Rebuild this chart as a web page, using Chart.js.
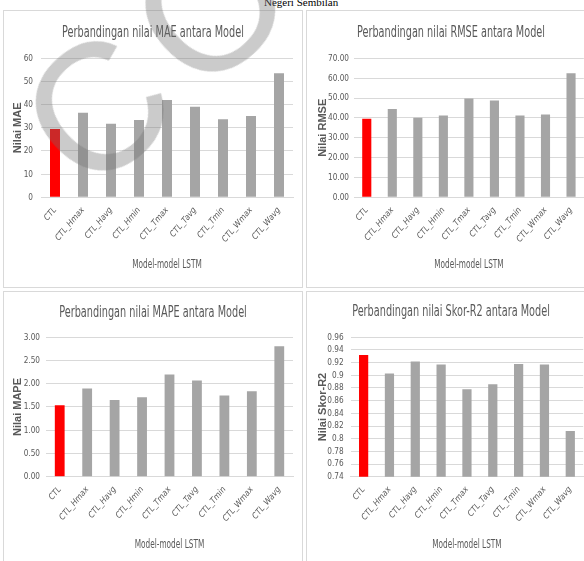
<!DOCTYPE html>
<html>
<head>
<meta charset="utf-8">
<script src="https://cdn.jsdelivr.net/npm/chart.js@4.4.1/dist/chart.umd.min.js"></script>
<style>
  html, body { margin: 0; padding: 0; background: #fff; }
  body { width: 584px; height: 561px; overflow: hidden; position: relative; }
  .panel { position: absolute; border: 1px solid #d9d9d9; box-sizing: border-box; background: #fff; }
  .panel canvas { position: absolute; left: -1px; top: -1px; }
  #p1 { left: 3px; top: 10px; width: 300px; height: 278px; }
  #p2 { left: 306px; top: 10px; width: 290px; height: 278px; }
  #p3 { left: 3px; top: 291px; width: 300px; height: 280px; }
  #p4 { left: 306px; top: 291px; width: 290px; height: 280px; }
  #header { position: absolute; left: 264px; top: -4px; font: 11px 'Liberation Serif', serif; color: #000; white-space: nowrap; }
  #mark { position: absolute; left: 97px; top: 106px; width: 0; height: 0; transform: rotate(-42deg); pointer-events: none; }
  #mark span { position: absolute; left: -67px; top: -88px; font: 180px/180px 'Liberation Sans', Arial, sans-serif; letter-spacing: 18px; color: rgba(110,110,110,0.36); white-space: nowrap; }
</style>
</head>
<body>
<div id="header">Negeri Sembilan</div>
<div class="panel" id="p1"><canvas id="c1" width="300" height="278"></canvas></div>
<div class="panel" id="p2"><canvas id="c2" width="290" height="278"></canvas></div>
<div class="panel" id="p3"><canvas id="c3" width="300" height="270"></canvas></div>
<div class="panel" id="p4"><canvas id="c4" width="290" height="270"></canvas></div>
<div id="mark"><span>COPY</span></div>
<script>
// Model names on the category axis
const models = ['CTL', 'CTL_Hmax', 'CTL_Havg', 'CTL_Hmin', 'CTL_Tmax', 'CTL_Tavg', 'CTL_Tmin', 'CTL_Wmax', 'CTL_Wavg'];

// Error / score values per model
const maeValues  = [29.5, 36.5, 31.8, 33.4, 42.0, 39.1, 33.7, 35.1, 53.5];
const rmseValues = [39.5, 44.5, 40.0, 41.2, 49.8, 48.7, 41.2, 41.7, 62.5];
const mapeValues = [1.54, 1.90, 1.65, 1.71, 2.20, 2.07, 1.75, 1.84, 2.81];
const r2Values   = [0.932, 0.903, 0.922, 0.917, 0.878, 0.886, 0.918, 0.917, 0.812];

// Value-axis ticks and their printed labels
const maeTicks = [0, 10, 20, 30, 40, 50, 60];
const maeTickLabels = ['0', '10', '20', '30', '40', '50', '60'];
const rmseTicks = [0, 10, 20, 30, 40, 50, 60, 70];
const rmseTickLabels = ['0.00', '10.00', '20.00', '30.00', '40.00', '50.00', '60.00', '70.00'];
const mapeTicks = [0, 0.5, 1, 1.5, 2, 2.5, 3];
const mapeTickLabels = ['0.00', '0.50', '1.00', '1.50', '2.00', '2.50', '3.00'];
const r2Ticks = [0.74, 0.76, 0.78, 0.8, 0.82, 0.84, 0.86, 0.88, 0.9, 0.92, 0.94, 0.96];
const r2TickLabels = ['0.74', '0.76', '0.78', '0.8', '0.82', '0.84', '0.86', '0.88', '0.9', '0.92', '0.94', '0.96'];

const NARROW = "'Liberation Sans Narrow', 'DejaVu Sans Condensed', sans-serif";
const TEXT = '#595959';
const GRID = '#d9d9d9';

// Squeezes text horizontally (title, axis title, value labels) to get a narrow face
const narrowText = {
  id: 'narrowText',
  afterUpdate(chart, args, opts) {
    const tb = chart.titleBlock;
    if (tb && !tb._narrow) {
      const draw = tb.draw;
      tb.draw = function (...a) {
        const c = this.ctx, bc = (this.left + this.right) / 2;
        c.save(); c.translate(chart.width / 2, 0); c.scale(opts.title, 1); c.translate(-bc, 0);
        draw.apply(this, a);
        c.restore();
      };
      tb._narrow = true;
    }
    const x = chart.scales.x;
    if (x && !x._narrow) {
      const drawTitle = x.drawTitle;
      x.drawTitle = function (...a) {
        const c = this.ctx, cx = (this.left + this.right) / 2;
        c.save(); c.translate(cx, 0); c.scale(opts.axisTitle, 1); c.translate(-cx, 0);
        drawTitle.apply(this, a);
        c.restore();
      };
      x._narrow = true;
    }
    const y = chart.scales.y;
    if (y && !y._narrow) {
      const drawLabels = y.drawLabels;
      y.drawLabels = function (...a) {
        const c = this.ctx, ax = this.right - this.options.ticks.padding;
        c.save(); c.translate(ax, 0); c.scale(opts.ticks, 1); c.translate(-ax, 0);
        drawLabels.apply(this, a);
        c.restore();
      };
      y._narrow = true;
    }
  }
};

function buildChart(id, cfg) {
  const colors = models.map((m, i) => (i === 0 ? '#ff0000' : '#a5a5a5'));
  return new Chart(document.getElementById(id), {
    type: 'bar',
    plugins: [narrowText],
    data: {
      labels: models,
      datasets: [{
        data: cfg.values,
        backgroundColor: colors,
        borderWidth: 0,
        barPercentage: 0.357,
        categoryPercentage: 1
      }]
    },
    options: {
      responsive: false,
      animation: false,
      events: [],
      layout: { padding: { left: 0, right: cfg.padRight, top: 0, bottom: cfg.padBottom } },
      plugins: {
        legend: { display: false },
        tooltip: { enabled: false },
        narrowText: { title: 0.72, axisTitle: 0.71, ticks: 0.86 },
        title: {
          display: true,
          text: cfg.title,
          color: TEXT,
          font: { family: NARROW, size: 15, weight: 'normal', lineHeight: 1.2 },
          padding: { top: cfg.titleTop, bottom: cfg.titleBottom }
        }
      },
      scales: {
        x: {
          grid: { display: false, drawTicks: false },
          border: { display: true, color: GRID },
          ticks: {
            color: TEXT,
            font: { family: NARROW, size: 8.5, style: 'italic' },
            minRotation: 50,
            maxRotation: 50,
            autoSkip: false,
            padding: 8
          },
          title: {
            display: true,
            text: 'Model-model LSTM',
            color: TEXT,
            font: { family: NARROW, size: 11.5, lineHeight: 1.2 },
            padding: { top: 0, bottom: 4 }
          },
          afterFit: s => { s.height = cfg.xHeight; }
        },
        y: {
          min: cfg.ticks[0],
          max: cfg.ticks[cfg.ticks.length - 1],
          grid: { color: GRID, drawTicks: false },
          border: { display: false },
          afterBuildTicks: s => { s.ticks = cfg.ticks.map(v => ({ value: v })); },
          ticks: {
            color: TEXT,
            font: { family: NARROW, size: 9.5 },
            padding: cfg.tickPad,
            autoSkip: false,
            callback: (v, i) => cfg.tickLabels[i]
          },
          title: {
            display: true,
            text: cfg.yTitle,
            color: TEXT,
            font: { family: "'Liberation Sans', Arial, sans-serif", size: 11, weight: 'bold', lineHeight: 1.2 },
            padding: { top: cfg.yTitleTop, bottom: 0 }
          },
          afterFit: s => { s.width = cfg.yWidth; }
        }
      }
    }
  });
}

buildChart('c1', {
  title: 'Perbandingan nilai MAE antara Model', yTitle: 'Nilai MAE',
  values: maeValues, ticks: maeTicks, tickLabels: maeTickLabels,
  yWidth: 38, yTitleTop: 8.5, tickPad: 8, padRight: 10,
  titleTop: 14, titleBottom: 16.3, xHeight: 78.3, padBottom: 12.4
});
buildChart('c2', {
  title: 'Perbandingan nilai RMSE antara Model', yTitle: 'Nilai RMSE',
  values: rmseValues, ticks: rmseTicks, tickLabels: rmseTickLabels,
  yWidth: 48, yTitleTop: 10.2, tickPad: 5, padRight: 12.2,
  titleTop: 14, titleBottom: 16.3, xHeight: 78.3, padBottom: 12.4
});
buildChart('c3', {
  title: 'Perbandingan nilai MAPE antara Model', yTitle: 'Nilai MAPE',
  values: mapeValues, ticks: mapeTicks, tickLabels: mapeTickLabels,
  yWidth: 43, yTitleTop: 8.5, tickPad: 6, padRight: 10,
  titleTop: 12.7, titleBottom: 15.6, xHeight: 78.9, padBottom: 5.4
});
buildChart('c4', {
  title: 'Perbandingan nilai Skor-R2 antara Model', yTitle: 'Nilai Skor-R2',
  values: r2Values, ticks: r2Ticks, tickLabels: r2TickLabels,
  yWidth: 44.7, yTitleTop: 10.2, tickPad: 7, padRight: 12.8,
  titleTop: 12.5, titleBottom: 15.8, xHeight: 78.9, padBottom: 5.4
});
</script>
</body>
</html>
